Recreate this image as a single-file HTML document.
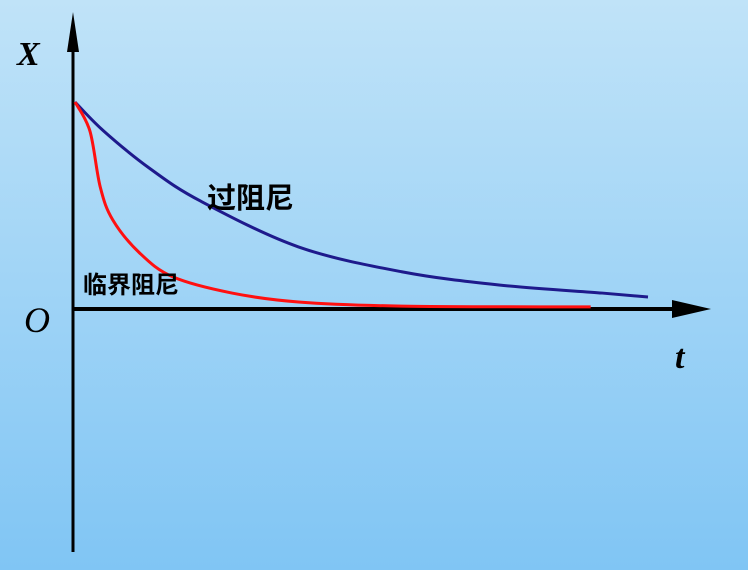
<!DOCTYPE html>
<html><head><meta charset="utf-8"><style>
html,body{margin:0;padding:0;}
body{width:748px;height:570px;overflow:hidden;background:linear-gradient(#c0e3f8,#80c5f4);}
svg{display:block}
</style></head><body>
<svg id="chart" width="748" height="570" viewBox="0 0 748 570">
<g id="axes">
<line x1="73" y1="40" x2="73" y2="552" stroke="#000" stroke-width="3"/>
<polygon points="73,12 67,52 79,52" fill="#000"/>
<line x1="73" y1="309" x2="680" y2="309" stroke="#000" stroke-width="4"/>
<polygon points="711,309 672,300 672,318" fill="#000"/>
<text x="17" y="65" font-family="Liberation Serif, serif" font-weight="bold" font-style="italic" font-size="34">X</text>
<text x="24" y="332" font-family="Liberation Serif, serif" font-style="italic" font-size="36">O</text>
<text x="675" y="368" font-family="Liberation Serif, serif" font-weight="bold" font-style="italic" font-size="34">t</text>
</g>
<g id="series"></g>
<text x="207" y="208" font-family="'Liberation Sans','Noto Sans CJK SC',sans-serif" font-weight="bold" font-size="29">过阻尼</text>
<text x="83" y="293" font-family="'Liberation Sans','Noto Sans CJK SC',sans-serif" font-weight="bold" font-size="24">临界阻尼</text>
</svg>
<script>
const overT = [0, 0.5, 1.3, 2.2, 3.9, 5.7, 7.4, 9.2, 10];
const overX = [1, 0.86, 0.68, 0.52, 0.30, 0.18, 0.116, 0.077, 0.058];
const critT = [0, 0.26, 0.44, 0.66, 1.13, 1.71, 2.74, 3.9, 5.7, 9.0];
const critX = [1, 0.86, 0.59, 0.43, 0.27, 0.155, 0.077, 0.034, 0.014, 0.01];
const sx = t => 75 + t * 57.3;
const sy = v => 309 - v * 207;
function pathFrom(ts, xs){
  const p = ts.map((t,i)=>[sx(t), sy(xs[i])]);
  let d = 'M'+p[0][0]+','+p[0][1];
  for(let i=0;i<p.length-1;i++){
    const p0=p[i-1]||p[i], p1=p[i], p2=p[i+1], p3=p[i+2]||p2;
    const c1x=p1[0]+(p2[0]-p0[0])/6, c1y=p1[1]+(p2[1]-p0[1])/6;
    const c2x=p2[0]-(p3[0]-p1[0])/6, c2y=p2[1]-(p3[1]-p1[1])/6;
    d+=` C${c1x},${c1y} ${c2x},${c2y} ${p2[0]},${p2[1]}`;
  }
  return d;
}
const g = document.getElementById('series');
const ns = 'http://www.w3.org/2000/svg';
const over = document.createElementNS(ns,'path');
over.setAttribute('d', pathFrom(overT, overX));
over.setAttribute('fill','none');
over.setAttribute('stroke','#1e1a8c');
over.setAttribute('stroke-width','3');


g.appendChild(over);
const crit = document.createElementNS(ns,'path');
crit.setAttribute('d', pathFrom(critT, critX));
crit.setAttribute('fill','none');
crit.setAttribute('stroke','#ff1010');
crit.setAttribute('stroke-width','3');


g.appendChild(crit);
</script>
</body></html>
